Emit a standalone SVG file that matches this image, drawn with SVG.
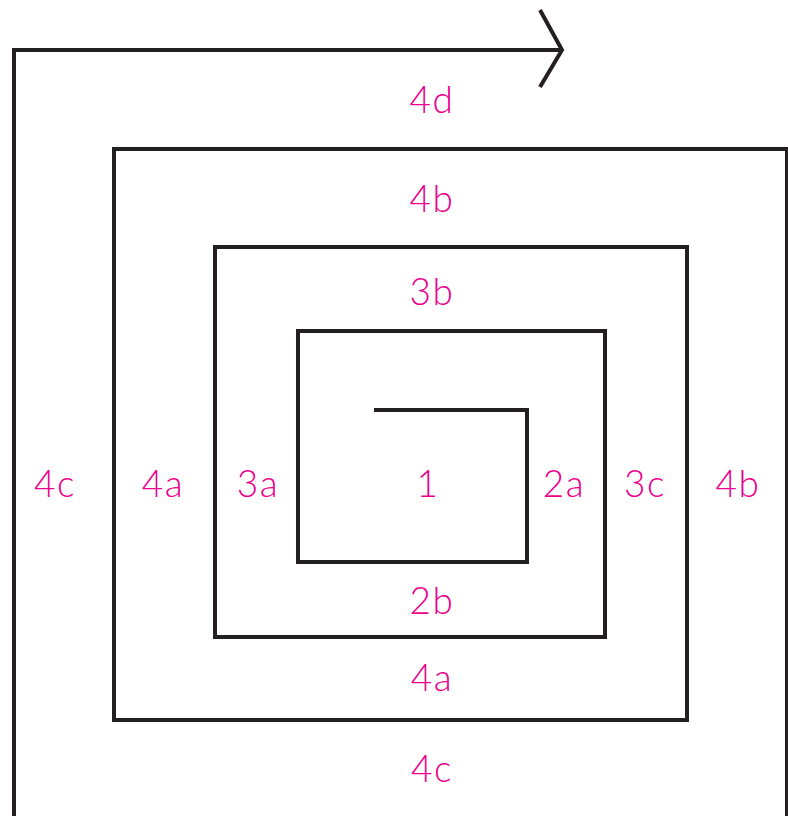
<svg xmlns="http://www.w3.org/2000/svg" width="788" height="816" viewBox="0 0 788 816">
<style>
.ln{fill:none;stroke:#231f20;stroke-width:4;stroke-linejoin:miter;stroke-linecap:butt}
.lb{fill:#ec008c;font-family:"Lato","Liberation Sans",sans-serif;font-weight:300;font-size:37px;letter-spacing:1.5px;text-anchor:middle}
</style>
<rect width="788" height="816" fill="#fff"/>
<g id="connectors">
<path class="ln" d="M374,410 H527 V562 H298 V331 H605 V637 H215 V247 H687 V720 H114 V149 H787 V816"/>
<path class="ln" d="M14,816 V50 H562"/>
<path class="ln" d="M540,10 L562,50 L540,87"/>
</g>
<g id="labels">
<text class="lb" x="432" y="113">4d</text>
<text class="lb" x="432" y="212">4b</text>
<text class="lb" x="432" y="305">3b</text>
<text class="lb" x="55" y="497">4c</text>
<text class="lb" x="163" y="497">4a</text>
<text class="lb" x="258" y="497">3a</text>
<text class="lb" x="428" y="497">1</text>
<text class="lb" x="564" y="497">2a</text>
<text class="lb" x="645" y="497">3c</text>
<text class="lb" x="738" y="497">4b</text>
<text class="lb" x="432" y="614">2b</text>
<text class="lb" x="432" y="691">4a</text>
<text class="lb" x="432" y="782">4c</text>
</g>
</svg>
